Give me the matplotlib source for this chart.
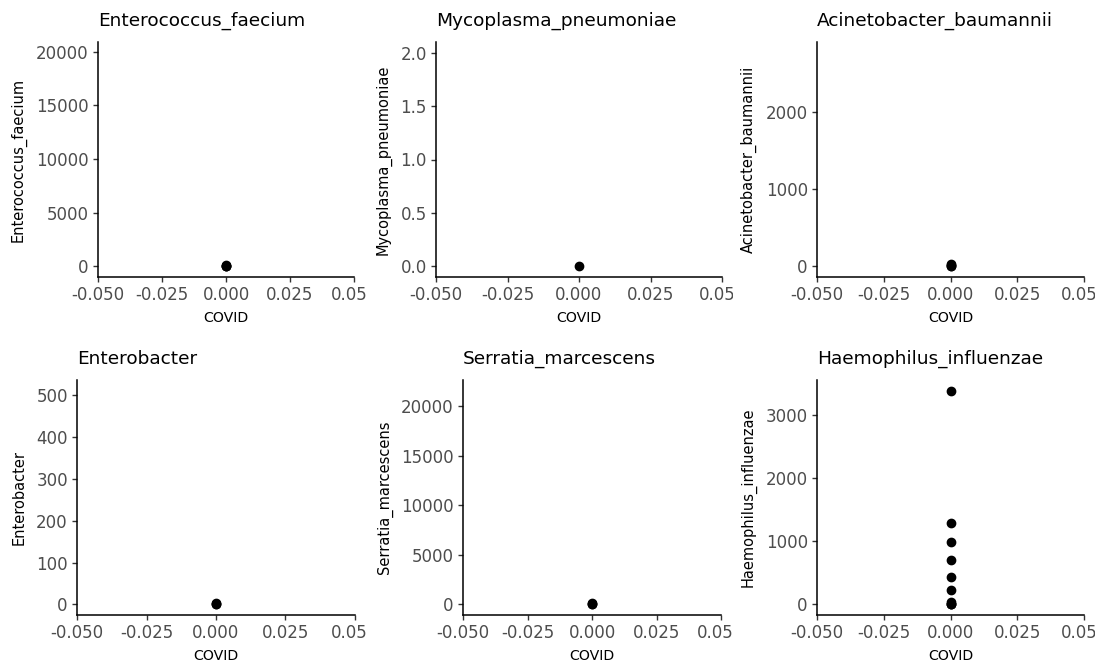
import matplotlib.pyplot as plt
from matplotlib.transforms import Bbox, TransformedBbox

# one panel per species, x is the COVID flag (only 0 in the plotted rows)
species = ["Enterococcus_faecium", "Mycoplasma_pneumoniae", "Acinetobacter_baumannii",
           "Enterobacter", "Serratia_marcescens", "Haemophilus_influenzae"]

enterococcus_faecium = [0, 0, 60, 150]
mycoplasma_pneumoniae = [0]
acinetobacter_baumannii = [0, 0, 15, 30]
enterobacter = [0, 1, 3]
serratia_marcescens = [0, 50, 120]
haemophilus_influenzae = [0, 0, 10, 30, 220, 425, 695, 980, 1280, 3380]
counts = [enterococcus_faecium, mycoplasma_pneumoniae, acinetobacter_baumannii,
          enterobacter, serratia_marcescens, haemophilus_influenzae]

# upper end of each y scale (the full data range, before the 5% padding)
y_max = [19900, 2.0, 2775, 511, 21580, 3380]

y_ticks = [[0, 5000, 10000, 15000, 20000],
           [0, 0.5, 1.0, 1.5, 2.0],
           [0, 1000, 2000],
           [0, 100, 200, 300, 400, 500],
           [0, 5000, 10000, 15000, 20000],
           [0, 1000, 2000, 3000]]
y_tick_labels = [["0", "5000", "10000", "15000", "20000"],
                 ["0.0", "0.5", "1.0", "1.5", "2.0"],
                 ["0", "1000", "2000"],
                 ["0", "100", "200", "300", "400", "500"],
                 ["0", "5000", "10000", "15000", "20000"],
                 ["0", "1000", "2000", "3000"]]
x_ticks = [-0.05, -0.025, 0.0, 0.025, 0.05]
x_tick_labels = ["-0.050", "-0.025", "0.000", "0.025", "0.050"]

W, H = 1102, 665
# panel boxes in pixels: left, right, top, bottom
boxes = [(98, 354, 42, 277), (436, 722, 42, 277), (817, 1084, 42, 277),
         (77, 355, 380, 615), (463, 721, 380, 615), (817, 1084, 380, 615)]
ylab_x = [19, 384, 749, 19, 385, 749]
cells = [(0, 366), (367, 733), (734, 1095)]

fig = plt.figure(figsize=(W / 100, H / 100), dpi=100)

for i, name in enumerate(species):
    l, r, t, b = boxes[i]
    ax = fig.add_axes([l / W, 1 - b / H, (r - l) / W, (b - t) / H])
    vals = counts[i]
    ax.plot([0] * len(vals), vals, "o", color="black", markersize=6, clip_on=False)

    ax.set_xlim(-0.05, 0.05)
    pad = y_max[i] * 0.05
    ax.set_ylim(-pad, y_max[i] + pad)
    ax.set_xticks(x_ticks)
    ax.set_xticklabels(x_tick_labels)
    ax.set_yticks(y_ticks[i])
    ax.set_yticklabels(y_tick_labels[i])

    for s in ["top", "right"]:
        ax.spines[s].set_visible(False)
    for s in ["left", "bottom"]:
        ax.spines[s].set_linewidth(1.1)
        ax.spines[s].set_color("black")
    ax.tick_params(length=3.6, width=1.0, color="#333333", labelcolor="#4D4D4D",
                   labelsize=12, pad=3)

    ax.set_title(name, loc="left", fontsize=13.3, pad=11.5, color="black")
    ax.set_xlabel("COVID", fontsize=10.2)
    ax.set_ylabel(name, fontsize=10.5)
    ax.xaxis.label.set_va("center")
    ax.xaxis.set_label_coords(0.5, -(41 / (b - t)))
    ax.yaxis.label.set_va("center")
    ax.yaxis.set_label_coords((ylab_x[i] - l) / (r - l), 0.5)

    # the last x tick label is cut off at the edge of its grid cell
    c0, c1 = cells[i % 3]
    clip = TransformedBbox(Bbox([[c0 / W, 0], [c1 / W, 1]]), fig.transFigure)
    for lab in ax.get_xticklabels():
        lab.set_clip_box(clip)
        lab.set_clip_on(True)

fig.savefig("out.png", dpi=100)
